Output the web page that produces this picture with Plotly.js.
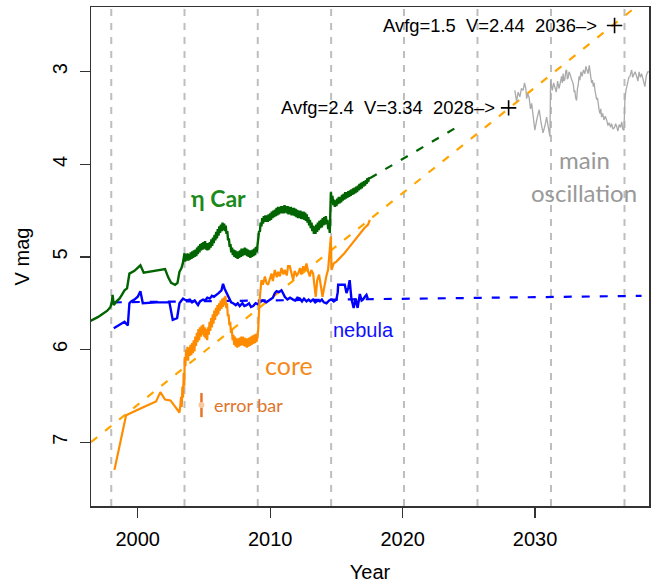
<!DOCTYPE html>
<html>
<head>
<meta charset="utf-8">
<script src="https://cdn.plot.ly/plotly-3.0.1.min.js"></script>
<style>html,body{margin:0;padding:0;background:#fff;}#chart{width:659px;height:585px;}</style>
</head>
<body>
<div id="chart"></div>
<script>
// ---- data ----
const periastronYears = [1998.0, 2003.53, 2009.06, 2014.6, 2020.1, 2025.65, 2031.2, 2036.75];

const etaCarYear = [1996.3,1996.6,1996.98,1997.2,1997.48,1997.7,1997.94,1998.05,1998.1,1998.19,1998.4,1998.62,1998.8,1999.0,1999.19,1999.3,1999.37,1999.75,2000.0,2000.2,2000.45,2001.2,2002.06,2002.3,2002.52,2002.82,2003.0,2003.15,2003.3,2003.4,
2003.53,2003.58,2003.64,2003.70,2003.76,2003.82,2003.88,2003.94,2004.00,2004.06,2004.12,2004.18,2004.24,2004.30,2004.36,2004.42,2004.48,2004.54,2004.60,2004.66,2004.72,2004.78,2004.84,2004.90,2004.96,2005.02,2005.08,2005.14,2005.20,2005.26,2005.32,2005.38,2005.44,2005.50,2005.56,2005.62,2005.68,2005.74,2005.80,2005.86,2005.92,2005.98,2006.04,2006.10,2006.16,2006.22,2006.28,2006.34,2006.40,2006.46,2006.52,2006.58,2006.64,2006.70,2006.76,2006.82,2006.88,2006.94,2007.00,2007.06,2007.12,2007.18,2007.24,2007.30,2007.36,2007.42,2007.48,2007.54,2007.60,2007.66,2007.72,2007.78,2007.84,2007.90,2007.96,2008.02,2008.08,2008.14,2008.20,2008.26,2008.32,2008.38,2008.44,2008.50,2008.56,2008.62,2008.68,2008.74,2008.80,2008.86,2008.92,2008.98,2009.04,2009.10,2009.16,2009.22,2009.28,2009.34,2009.40,2009.46,2009.52,2009.58,2009.64,2009.70,2009.76,2009.82,2009.88,2009.94,2010.00,2010.06,2010.12,2010.18,2010.24,2010.30,2010.36,2010.42,2010.48,2010.54,2010.60,2010.66,2010.72,2010.78,2010.84,2010.90,2010.96,2011.02,2011.08,2011.14,2011.20,2011.26,2011.32,2011.38,2011.44,2011.50,2011.56,2011.62,2011.68,2011.74,2011.80,2011.86,2011.92,2011.98,2012.04,2012.10,2012.16,2012.22,2012.28,2012.34,2012.40,2012.46,2012.52,2012.58,2012.64,2012.70,2012.76,2012.82,2012.88,2012.94,2013.00,2013.06,2013.12,2013.18,2013.24,2013.30,2013.36,2013.42,2013.48,2013.54,2013.60,2013.66,2013.72,2013.78,2013.84,2013.90,2013.96,2014.02,2014.08,2014.14,2014.20,2014.26,2014.32,2014.38,2014.44,2014.50,2014.55,2014.58,2014.64,2014.70,2014.76,2014.82,2014.88,2014.94,2015.00,2015.06,2015.12,2015.18,2015.24,2015.30,2015.36,2015.42,2015.48,2015.54,2015.60,2015.66,2015.72,2015.78,2015.84,2015.90,2015.96,2016.02,2016.08,2016.14,2016.20,2016.26,2016.32,2016.38,2016.44,2016.50,2016.56,2016.62,2016.68,2016.74,2016.80,2016.86,2016.92,2016.98,2017.04,2017.10,2017.16,2017.22,2017.28,2017.34,2017.40,2017.46,2017.52];
const etaCarMag = [5.70,5.68,5.65,5.63,5.60,5.58,5.54,5.48,5.41,5.52,5.48,5.45,5.41,5.36,5.34,5.25,5.18,5.15,5.12,5.09,5.17,5.15,5.13,5.22,5.28,5.30,5.28,5.16,5.12,5.07,
4.96,5.05,4.97,5.04,4.96,5.04,4.97,5.03,4.95,5.02,4.94,5.01,4.93,5.00,4.92,4.99,4.90,4.97,4.88,4.95,4.86,4.93,4.85,4.92,4.84,4.91,4.83,4.92,4.85,4.93,4.85,4.92,4.84,4.90,4.81,4.88,4.79,4.85,4.76,4.82,4.73,4.80,4.70,4.77,4.67,4.74,4.65,4.72,4.63,4.71,4.64,4.72,4.66,4.75,4.72,4.82,4.80,4.89,4.86,4.95,4.90,4.98,4.92,5.00,4.93,5.01,4.94,5.02,4.94,5.01,4.93,5.00,4.91,4.99,4.91,4.98,4.90,4.98,4.91,4.99,4.92,5.00,4.93,5.01,4.93,5.00,4.92,4.99,4.91,4.98,4.89,4.95,4.86,4.84,4.72,4.73,4.63,4.67,4.58,4.64,4.56,4.62,4.55,4.62,4.55,4.62,4.54,4.61,4.53,4.60,4.51,4.58,4.50,4.57,4.49,4.56,4.47,4.55,4.46,4.54,4.46,4.53,4.45,4.53,4.45,4.53,4.44,4.52,4.45,4.53,4.45,4.54,4.46,4.54,4.46,4.55,4.47,4.55,4.47,4.56,4.48,4.57,4.49,4.58,4.50,4.58,4.50,4.59,4.51,4.59,4.51,4.60,4.52,4.61,4.54,4.63,4.57,4.66,4.60,4.69,4.63,4.72,4.66,4.75,4.67,4.75,4.65,4.73,4.63,4.71,4.61,4.69,4.60,4.68,4.58,4.66,4.57,4.65,4.56,4.64,4.60,4.70,4.66,4.74,4.50,4.30,4.40,4.34,4.44,4.38,4.46,4.39,4.45,4.37,4.43,4.35,4.42,4.35,4.41,4.33,4.39,4.32,4.38,4.30,4.37,4.30,4.36,4.29,4.35,4.28,4.34,4.27,4.33,4.26,4.32,4.25,4.31,4.24,4.30,4.23,4.28,4.21,4.27,4.20,4.26,4.19,4.24,4.18,4.23,4.17,4.21,4.15,4.19,4.14,4.16];

const etaCarExtYear = [2017.52, 2024.07];
const etaCarExtMag = [4.15, 3.60];

const coreYear = [1998.24,1999.12,2000.0,2001.38,2001.71,2002.06,2002.47,2002.97,2003.15,2003.22,2003.27,2003.32,2003.37,2003.42,2003.47,2003.51,2003.55,2003.60,2003.65,2003.70,2003.75,2003.80,2003.86,2003.92,2003.98,2004.04,2004.10,2004.16,2004.22,2004.28,2004.34,2004.40,2004.46,2004.52,2004.58,2004.64,2004.70,2004.76,2004.82,2004.88,2004.94,2005.00,2005.06,2005.12,2005.18,2005.24,2005.30,2005.36,2005.42,2005.48,2005.54,2005.60,2005.66,2005.72,2005.78,2005.84,2005.90,2005.96,2006.02,2006.08,2006.14,2006.20,2006.26,2006.32,2006.38,2006.44,2006.50,2006.56,2006.62,2006.68,2006.74,2006.80,2006.86,2006.92,2006.98,2007.04,2007.10,2007.16,2007.22,2007.28,2007.34,2007.40,2007.46,2007.52,2007.58,2007.64,2007.70,2007.76,2007.82,2007.88,2007.94,2008.00,2008.06,2008.12,2008.18,2008.24,2008.30,2008.36,2008.42,2008.48,2008.54,2008.60,2008.66,2008.72,2008.78,2008.84,2008.90,2008.96,2009.02,2009.09,2009.2,2009.34,2009.45,2009.6,2009.72,2009.84,2009.97,2010.1,2010.2,2010.35,2010.5,2010.6,2010.73,2010.85,2011.0,2011.1,2011.25,2011.35,2011.48,2011.6,2011.73,2011.85,2012.0,2012.11,2012.25,2012.35,2012.49,2012.6,2012.74,2012.85,2012.99,2013.1,2013.24,2013.44,2013.55,2013.69,2013.8,2013.95,2014.05,2014.12,2014.25,2014.37,2014.5,2014.58,2014.63,2014.8,2015.0,2015.2,2015.38,2015.6,2015.88,2016.1,2016.39,2016.6,2016.89,2017.1,2017.39,2017.52];
const coreMag = [7.30,6.71,6.65,6.56,6.46,6.54,6.55,6.65,6.68,6.60,6.51,6.62,6.40,6.52,6.25,6.40,6.08,6.18,6.00,6.10,5.97,6.12,5.98,6.07,5.95,6.06,5.93,6.04,5.90,6.02,5.86,5.96,5.82,5.92,5.78,5.90,5.76,5.86,5.74,5.84,5.73,5.86,5.76,5.88,5.78,5.90,5.76,5.84,5.70,5.80,5.66,5.76,5.62,5.72,5.58,5.68,5.55,5.64,5.52,5.62,5.50,5.58,5.47,5.56,5.45,5.54,5.44,5.52,5.42,5.55,5.50,5.64,5.62,5.74,5.70,5.82,5.78,5.90,5.84,5.95,5.86,5.97,5.88,5.98,5.88,5.97,5.87,5.96,5.86,5.95,5.86,5.96,5.87,5.97,5.88,5.98,5.88,5.97,5.87,5.96,5.86,5.95,5.85,5.94,5.84,5.93,5.83,5.92,5.88,5.79,5.46,5.25,5.30,5.21,5.28,5.30,5.25,5.18,5.26,5.14,5.22,5.16,5.21,5.12,5.19,5.14,5.20,5.10,5.10,5.19,5.25,5.15,5.20,5.18,5.12,5.19,5.10,5.15,5.07,5.15,5.21,5.14,5.18,5.43,5.25,5.19,5.30,5.43,5.35,5.28,5.20,5.14,4.96,4.78,5.14,5.07,5.05,5.02,5.00,4.96,4.91,4.87,4.82,4.78,4.73,4.69,4.65,4.60];

const trendYear = [1996.47, 2037.6];
const trendMag = [7.00, 2.30];

const nebulaYear = [1998.19,1998.5,1998.74,1999.0,1999.25,1999.37,1999.5,1999.75,2000.0,2000.2,2000.38,2001.4,2002.39,2002.64,2002.97,2003.15,2003.3,2003.42,2003.53,2003.7,2003.93,2004.1,2004.3,2004.55,2004.7,2004.93,2005.1,2005.25,2005.44,2005.6,2005.75,2005.94,2006.1,2006.32,2006.44,2006.55,2006.7,2006.9,2007.05,2007.2,2007.4,2007.55,2007.7,2007.9,2008.05,2008.21,2008.4,2008.55,2008.71,2008.9,2009.05,2009.21,2009.45,2009.7,2009.97,2010.2,2010.35,2010.48,2010.65,2010.85,2011.0,2011.1,2011.3,2011.5,2011.73,2011.9,2012.05,2012.24,2012.4,2012.55,2012.74,2012.9,2013.05,2013.24,2013.4,2013.6,2013.75,2013.9,2014.05,2014.25,2014.45,2014.63,2014.8,2015.0,2015.1,2015.13,2015.4,2015.63,2015.76,2015.9,2016.0,2016.13,2016.3,2016.45,2016.6,2016.77,2016.9,2017.0,2017.15,2017.27,2017.37];
const nebulaMag = [5.77,5.74,5.72,5.70,5.74,5.50,5.48,5.46,5.43,5.37,5.50,5.49,5.49,5.68,5.66,5.50,5.47,5.45,5.46,5.47,5.46,5.49,5.47,5.52,5.48,5.46,5.47,5.44,5.45,5.42,5.43,5.41,5.39,5.36,5.29,5.34,5.39,5.45,5.49,5.50,5.52,5.50,5.53,5.50,5.53,5.52,5.50,5.54,5.53,5.50,5.51,5.49,5.47,5.49,5.46,5.44,5.39,5.37,5.38,5.36,5.40,5.43,5.46,5.44,5.46,5.47,5.44,5.45,5.48,5.45,5.48,5.46,5.48,5.46,5.49,5.47,5.48,5.46,5.49,5.50,5.47,5.46,5.48,5.46,5.38,5.30,5.30,5.30,5.39,5.33,5.25,5.45,5.55,5.45,5.55,5.40,5.47,5.46,5.43,5.41,5.45];

const nebulaExtYear = [1998.19, 2038.04];
const nebulaExtMag = [5.49, 5.42];

const oscYear = [2028.47,2028.6,2028.72,2028.85,2028.97,2029.1,2029.2,2029.3,2029.36,2029.45,2029.55,2029.65,2029.74,2029.86,2029.98,2030.15,2030.31,2030.45,2030.6,2030.75,2030.87,2031.0,2031.12,2031.17,2031.3,2031.4,2031.5,2031.6,2031.7,2031.8,2031.87,2031.95,2032.0,2032.06,2032.12,2032.18,2032.25,2032.32,2032.38,2032.44,2032.5,2032.56,2032.63,2032.75,2032.88,2032.95,2033.0,2033.06,2033.13,2033.2,2033.25,2033.32,2033.38,2033.46,2033.55,2033.65,2033.76,2033.83,2033.9,2034.0,2034.09,2034.15,2034.2,2034.27,2034.33,2034.4,2034.46,2034.52,2034.58,2034.65,2034.71,2034.77,2034.84,2034.9,2034.96,2035.02,2035.1,2035.2,2035.3,2035.4,2035.5,2035.6,2035.7,2035.78,2035.88,2036.0,2036.08,2036.16,2036.25,2036.35,2036.45,2036.54,2036.62,2036.71,2036.78,2036.86,2036.93,2037.0,2037.08,2037.16,2037.22,2037.29,2037.37,2037.45,2037.55,2037.67,2037.76,2037.85,2037.95,2038.04,2038.15,2038.29,2038.4,2038.5,2038.7];
const oscMag = [3.20,3.32,3.22,3.27,3.18,3.20,3.12,3.18,3.29,3.24,3.28,3.40,3.34,3.52,3.63,3.50,3.41,3.55,3.66,3.58,3.49,3.60,3.70,3.09,3.20,3.12,3.16,3.22,3.10,3.18,3.14,3.06,3.05,3.12,3.02,3.10,3.08,2.99,2.98,3.08,3.06,3.00,3.02,3.08,3.13,3.22,3.20,3.28,3.31,3.18,3.15,3.05,3.09,3.00,3.05,2.98,3.02,2.94,2.97,3.02,2.93,3.03,3.05,3.12,3.09,3.16,3.12,3.20,3.26,3.30,3.28,3.38,3.42,3.45,3.40,3.49,3.45,3.52,3.48,3.52,3.58,3.55,3.60,3.56,3.62,3.60,3.56,3.59,3.64,3.57,3.60,3.54,3.62,3.63,3.30,3.20,3.14,3.10,3.06,3.05,3.01,2.98,3.06,3.04,3.00,3.05,3.10,3.00,3.06,3.02,3.08,3.16,3.04,3.00,3.00];

const crossYear = [2028.0, 2036.0];
const crossMag = [3.39, 2.50];
const crossLabels = ["Avfg=2.4\u00a0\u00a0V=3.34\u00a0\u00a02028\u2013>", "Avfg=1.5\u00a0\u00a0V=2.44\u00a0\u00a02036\u2013>"];

const errYear = [2004.81];
const errMag = [6.60];
const errSize = [0.13];

const xTicks = [2000, 2010, 2020, 2030];
const yTicks = [3, 4, 5, 6, 7];

// ---- traces ----
const traces = [
  {x: trendYear, y: trendMag, mode: 'lines', line: {color: '#FFA500', width: 2.2, dash: '8px,10px'}, hoverinfo: 'skip'},
  {x: nebulaExtYear, y: nebulaExtMag, mode: 'lines', line: {color: '#0000FF', width: 2.2, dash: '8px,10px'}, hoverinfo: 'skip'},
  {x: etaCarExtYear, y: etaCarExtMag, mode: 'lines', line: {color: '#006400', width: 2.2, dash: '8px,10px'}, hoverinfo: 'skip'},
  {x: oscYear, y: oscMag, mode: 'lines', line: {color: '#AAAAAA', width: 1.3}, hoverinfo: 'skip'},
  {x: etaCarYear, y: etaCarMag, mode: 'lines', line: {color: '#006400', width: 2.4}, hoverinfo: 'skip'},
  {x: nebulaYear, y: nebulaMag, mode: 'lines', line: {color: '#0000FF', width: 2.4}, hoverinfo: 'skip'},
  {x: coreYear, y: coreMag, mode: 'lines', line: {color: '#FF8C00', width: 2.2}, hoverinfo: 'skip'},
  {x: crossYear, y: crossMag, mode: 'markers', marker: {symbol: 'cross-thin', size: 11, line: {color: '#000', width: 1.6}}, hoverinfo: 'skip', cliponaxis: false},
  {x: errYear, y: errMag, mode: 'markers', marker: {color: '#F8C9A0', size: 6},
   error_y: {type: 'data', array: errSize, color: '#E8742A', thickness: 2.5, width: 0}, hoverinfo: 'skip'}
];

const shapes = periastronYears.map(yr => ({
  type: 'line', xref: 'x', yref: 'paper', x0: yr, x1: yr, y0: 0, y1: 1, layer: 'below',
  line: {color: '#BEBEBE', width: 2, dash: '7px,7px'}
}));

const helv = 'Liberation Sans, Arial, sans-serif';
const cal = 'Lato, Open Sans, sans-serif';

const annotations = [
  {x: 2006.08, y: 4.36, text: '\u03b7 Car', showarrow: false, font: {family: cal, size: 23, color: '#1A8A1A', weight: 'bold'}},
  {x: 2033.72, y: 3.95, text: 'main', showarrow: false, font: {family: cal, size: 24, color: '#999999'}},
  {x: 2033.69, y: 4.30, text: 'oscillation', showarrow: false, font: {family: cal, size: 24, color: '#999999'}},
  {x: 2011.44, y: 6.17, text: 'core', showarrow: false, font: {family: cal, size: 25, color: '#F58A1A'}},
  {x: 2005.59, y: 6.60, text: 'error bar', xanchor: 'left', showarrow: false, font: {family: cal, size: 18, color: '#E0742A'}},
  {x: 2014.58, y: 5.79, text: 'nebula', xanchor: 'left', showarrow: false, font: {family: helv, size: 20, color: '#1010FF'}},
  {x: crossYear[0], y: crossMag[0], text: crossLabels[0], xanchor: 'right', xshift: -12, showarrow: false, font: {family: helv, size: 18.4, color: '#000'}},
  {x: crossYear[1], y: crossMag[1], text: crossLabels[1], xanchor: 'right', xshift: -16, showarrow: false, font: {family: helv, size: 18.4, color: '#000'}}
];

const layout = {
  width: 659, height: 585,
  margin: {l: 91, r: 10, t: 7, b: 79},
  paper_bgcolor: '#fff', plot_bgcolor: '#fff',
  showlegend: false,
  font: {family: helv, color: '#000'},
  xaxis: {
    range: [1996.47, 2038.6], tickvals: xTicks, ticktext: xTicks.map(String),
    showgrid: false, zeroline: false, showline: true, mirror: true, linecolor: '#333', linewidth: 1.5,
    ticks: 'outside', ticklen: 10, tickwidth: 1.2, tickcolor: '#333',
    tickfont: {family: helv, size: 20, color: '#000'}, ticklabelstandoff: 4,
    title: {text: 'Year', font: {family: helv, size: 20, color: '#000'}, standoff: 16},
    automargin: false
  },
  yaxis: {
    range: [7.69, 2.30], tickvals: yTicks, ticktext: yTicks.map(String), tickangle: -90,
    showgrid: false, zeroline: false, showline: true, mirror: true, linecolor: '#333', linewidth: 1.5,
    ticks: 'outside', ticklen: 10, tickwidth: 1.2, tickcolor: '#333',
    tickfont: {family: helv, size: 20, color: '#000'}, ticklabelstandoff: 5,
    title: {text: 'V mag', font: {family: helv, size: 20, color: '#000'}, standoff: 13},
    automargin: false
  },
  shapes: shapes,
  annotations: annotations
};

Plotly.newPlot('chart', traces, layout, {staticPlot: true, displayModeBar: false});
</script>
</body>
</html>
